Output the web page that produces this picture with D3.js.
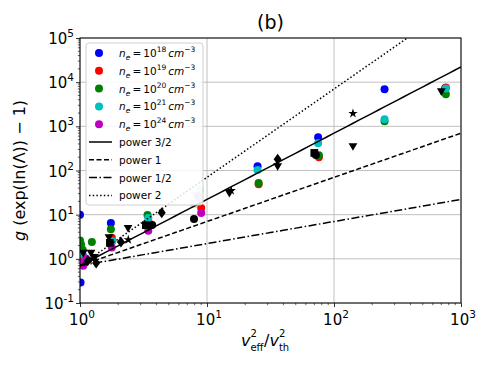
<!DOCTYPE html>
<html>
<head>
<meta charset="utf-8">
<script src="https://cdn.jsdelivr.net/npm/d3@7"></script>
<style>
  body { margin: 0; background: #fff; }
  text { font-family: "DejaVu Sans", sans-serif; }
</style>
</head>
<body>
<svg id="chart"></svg>
<script>
// colored circles, one array per density: [v_eff^2/v_th^2, g(exp(lnΛ)-1)]
const ne18 = [[1.0, 10], [1.01, 0.29], [1.05, 1.2], [1.75, 6.5], [25, 125], [75, 565], [250, 6900], [750, 7300]];
const ne19 = [[1.02, 1.1], [1.08, 0.85], [1.78, 3.0], [3.5, 6.5], [9.0, 14.1], [25.5, 49], [76, 200], [760, 7600]];
const ne20 = [[1.0, 2.6], [1.02, 2.1], [1.05, 1.6], [1.24, 2.4], [1.75, 4.7], [3.4, 9.8], [25.5, 52], [76, 222], [250, 1300], [760, 5300]];
const ne21 = [[1.03, 1.3], [1.1, 0.9], [1.8, 2.5], [3.45, 8.4], [25, 102], [75, 412], [250, 1450], [760, 7200]];
const ne24 = [[1.01, 0.8], [1.06, 0.7], [1.12, 1.0], [1.78, 1.8], [3.45, 4.3], [9.0, 10.9]];
const densities = [
    { label: "18", color: "#0000ff", data: ne18 },
    { label: "19", color: "#ff0000", data: ne19 },
    { label: "20", color: "#008000", data: ne20 },
    { label: "21", color: "#00bfbf", data: ne21 },
    { label: "24", color: "#bf00bf", data: ne24 }
];

// black markers from other runs
const blackCircles = [[7.9, 8.0], [3.7, 5.8], [72, 225]];
const blackTriangles = [[1.06, 1.37], [1.22, 1.37], [1.3, 1.1], [1.69, 3.1], [2.39, 5.0], [15, 31], [36, 125], [141, 355], [700, 6200]];
const blackSquares = [[1.72, 2.3], [3.3, 5.8], [70, 250]];
const blackDiamonds = [[1.15, 0.9], [1.34, 0.81], [2.1, 2.4], [4.4, 11], [36, 180]];
const blackStars = [[1.25, 1.0], [2.4, 2.7], [15.5, 35], [141, 1960]];
// faded markers near x ~ 8
const fadedMarkers = [
    { shape: "triangle", color: "#808080", x: 8.05, y: 28 },
    { shape: "circle", color: "#00bfbf", x: 8.8, y: 36 },
    { shape: "circle", color: "#0000ff", x: 8.6, y: 25 },
    { shape: "square", color: "#808080", x: 7.9, y: 17.5 }
];

// power-law guides: coef * x^p
const powers = [
    { label: "power 3/2", p: 1.5, dash: null },
    { label: "power 1", p: 1, dash: "5,2.5" },
    { label: "power 1/2", p: 0.5, dash: "8,2.5,1.5,2.5" },
    { label: "power 2", p: 2, dash: "1.5,2.2" }
];
const coef = 0.7;

const xTicks = [1, 10, 100, 1000];
const yTicks = [0.1, 1, 10, 100, 1000, 10000, 100000];

const width = 490, height = 368;
const marginLeft = 80, marginRight = 29, marginTop = 38, marginBottom = 65;

const svg = d3.select("#chart").attr("width", width).attr("height", height);

const xScale = d3.scaleLog().domain([1, 1000]).range([marginLeft, width - marginRight]);
const yScale = d3.scaleLog().domain([0.1, 100000]).range([height - marginBottom, marginTop]);

svg.append("clipPath").attr("id", "plotclip").append("rect")
    .attr("x", marginLeft).attr("y", marginTop)
    .attr("width", width - marginLeft - marginRight)
    .attr("height", height - marginTop - marginBottom);

// grid
svg.append("g").selectAll("line.gx").data(xTicks).enter().append("line")
    .attr("x1", d => xScale(d)).attr("x2", d => xScale(d))
    .attr("y1", marginTop).attr("y2", height - marginBottom)
    .attr("stroke", "#b0b0b0").attr("stroke-width", 0.8);
svg.append("g").selectAll("line.gy").data(yTicks).enter().append("line")
    .attr("y1", d => yScale(d)).attr("y2", d => yScale(d))
    .attr("x1", marginLeft).attr("x2", width - marginRight)
    .attr("stroke", "#b0b0b0").attr("stroke-width", 0.8);

// scatter points
const plot = svg.append("g").attr("clip-path", "url(#plotclip)");
const sym = (type, size) => d3.symbol().type(type).size(size)();
const triDown = "M0,4.6L-4.4,-3L4.4,-3Z";

densities.forEach(s => {
    plot.selectAll(null).data(s.data).enter().append("circle")
        .attr("cx", d => xScale(d[0])).attr("cy", d => yScale(d[1]))
        .attr("r", 4).attr("fill", s.color);
});

fadedMarkers.forEach(m => {
    let el;
    if (m.shape === "circle") el = plot.append("circle").attr("r", 4).attr("cx", xScale(m.x)).attr("cy", yScale(m.y));
    else {
        el = plot.append("path").attr("d", m.shape === "square" ? sym(d3.symbolSquare, 60) : triDown)
            .attr("transform", `translate(${xScale(m.x)},${yScale(m.y)})`);
    }
    el.attr("fill", m.color).attr("opacity", 0.3);
});

plot.selectAll(null).data(blackCircles).enter().append("circle")
    .attr("cx", d => xScale(d[0])).attr("cy", d => yScale(d[1])).attr("r", 4).attr("fill", "#000");
plot.selectAll(null).data(blackSquares).enter().append("path")
    .attr("d", sym(d3.symbolSquare, 60))
    .attr("transform", d => `translate(${xScale(d[0])},${yScale(d[1])})`).attr("fill", "#000");
plot.selectAll(null).data(blackTriangles).enter().append("path")
    .attr("d", triDown)
    .attr("transform", d => `translate(${xScale(d[0])},${yScale(d[1])})`).attr("fill", "#000");
plot.selectAll(null).data(blackDiamonds).enter().append("path")
    .attr("d", "M0,-5.5L4,0L0,5.5L-4,0Z")
    .attr("transform", d => `translate(${xScale(d[0])},${yScale(d[1])})`).attr("fill", "#000");
plot.selectAll(null).data(blackStars).enter().append("path")
    .attr("d", sym(d3.symbolStar, 28))
    .attr("transform", d => `translate(${xScale(d[0])},${yScale(d[1])})`).attr("fill", "#000");

// power-law lines
const xs = d3.range(0, 3.001, 0.05).map(e => Math.pow(10, e));
powers.forEach(pw => {
    const line = d3.line().x(d => xScale(d)).y(d => yScale(coef * Math.pow(d, pw.p)));
    plot.append("path").datum(xs).attr("d", line)
        .attr("fill", "none").attr("stroke", "#000").attr("stroke-width", 1.5)
        .attr("stroke-dasharray", pw.dash);
});

// axes
const fmt = d => Math.round(Math.log10(d));
const xAxis = svg.append("g").attr("transform", `translate(0,${height - marginBottom})`)
    .call(d3.axisBottom(xScale).tickValues(xTicks).tickFormat("").tickSizeOuter(0).tickSize(4));
const yAxis = svg.append("g").attr("transform", `translate(${marginLeft},0)`)
    .call(d3.axisLeft(yScale).tickValues(yTicks).tickFormat("").tickSizeOuter(0).tickSize(4));

// minor ticks
const minorX = [];
for (let dec = 1; dec < 1000; dec *= 10) for (let k = 2; k < 10; k++) minorX.push(dec * k);
const minorY = [];
for (let dec = 0.1; dec < 100000; dec *= 10) for (let k = 2; k < 10; k++) minorY.push(dec * k);
svg.append("g").selectAll(null).data(minorX).enter().append("line")
    .attr("x1", d => xScale(d)).attr("x2", d => xScale(d))
    .attr("y1", height - marginBottom).attr("y2", height - marginBottom + 2.2)
    .attr("stroke", "#000").attr("stroke-width", 0.6);
svg.append("g").selectAll(null).data(minorY).enter().append("line")
    .attr("y1", d => yScale(d)).attr("y2", d => yScale(d))
    .attr("x1", marginLeft).attr("x2", marginLeft - 2.2)
    .attr("stroke", "#000").attr("stroke-width", 0.6);

[xAxis, yAxis].forEach(a => {
    a.select(".domain").remove();
    a.selectAll(".tick line").attr("stroke-width", 0.8);
});

// tick labels as 10^n
xTicks.forEach(t => {
    const tx = svg.append("text").attr("x", xScale(t) + 2).attr("y", height - marginBottom + 22)
        .attr("text-anchor", "middle").attr("font-size", 15);
    tx.append("tspan").text("10");
    tx.append("tspan").attr("dy", -7).attr("font-size", 10.5).text(fmt(t));
});
yTicks.forEach(t => {
    const ty = svg.append("text").attr("x", marginLeft - 6).attr("y", yScale(t) + 6)
        .attr("text-anchor", "end").attr("font-size", 15);
    ty.append("tspan").text("10");
    ty.append("tspan").attr("dy", -7).attr("font-size", 10.5).text(fmt(t));
});

// frame
svg.append("rect").attr("x", marginLeft).attr("y", marginTop)
    .attr("width", width - marginLeft - marginRight).attr("height", height - marginTop - marginBottom)
    .attr("fill", "none").attr("stroke", "#000").attr("stroke-width", 1);

// title
svg.append("text").attr("x", (marginLeft + width - marginRight) / 2).attr("y", 29)
    .attr("text-anchor", "middle").attr("font-size", 19).text("(b)");

// x label: v_eff^2 / v_th^2, pieces placed one after another
const xlabel = svg.append("g");
let cx = 241;
const base = 346;
const piece = (txt, size, y, italic) => {
    const t = xlabel.append("text").attr("x", cx).attr("y", y).attr("font-size", size)
        .attr("font-style", italic ? "italic" : null).text(txt);
    return t.node().getComputedTextLength();
};
const vw = piece("v", 16, base, true);
cx += vw;
const s1 = piece("2", 10, base - 9, false);
const e1 = piece("eff", 10, base + 5, false);
cx += Math.max(s1, e1) + 0.5;
cx += piece("/", 16, base, false);
cx += piece("v", 16, base, true);
const s2 = piece("2", 10, base - 9, false);
piece("th", 10, base + 5, false);

const yl = svg.append("text").attr("transform", `translate(25,${(marginTop + height - marginBottom) / 2}) rotate(-90)`)
    .attr("text-anchor", "middle").attr("font-size", 16);
yl.append("tspan").attr("font-style", "italic").text("g");
yl.append("tspan").text(" (exp(ln(\u039b)) \u2212 1)");

// legend
const lg = svg.append("g");
lg.append("rect").attr("x", 86).attr("y", 43).attr("width", 117).attr("height", 162)
    .attr("rx", 3).attr("fill", "#fff").attr("fill-opacity", 0.85)
    .attr("stroke", "#d0d0d0").attr("stroke-width", 1);
const rowY = i => 53 + i * 17.8;
densities.forEach((s, i) => {
    lg.append("circle").attr("cx", 99).attr("cy", rowY(i)).attr("r", 4).attr("fill", s.color);
    const t = lg.append("text").attr("x", 119).attr("y", rowY(i) + 4).attr("font-size", 10.5);
    t.append("tspan").attr("font-style", "italic").text("n");
    t.append("tspan").attr("font-style", "italic").attr("dy", 3).attr("font-size", 7.5).text("e");
    t.append("tspan").attr("dy", -3).text("\u2009=\u200910");
    t.append("tspan").attr("dy", -5).attr("font-size", 7.5).text(s.label);
    t.append("tspan").attr("dy", 5).attr("font-style", "italic").text("\u2009cm");
    t.append("tspan").attr("dy", -5).attr("font-size", 7.5).text("\u22123");
});
powers.forEach((pw, j) => {
    const y = rowY(densities.length + j);
    lg.append("line").attr("x1", 89).attr("x2", 112).attr("y1", y).attr("y2", y)
        .attr("stroke", "#000").attr("stroke-width", 1.5).attr("stroke-dasharray", pw.dash);
    lg.append("text").attr("x", 119).attr("y", y + 4).attr("font-size", 10.5).text(pw.label);
});
</script>
</body>
</html>
